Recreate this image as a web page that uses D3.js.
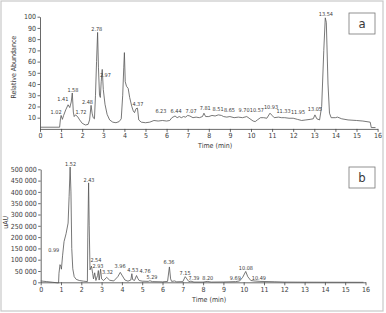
<!DOCTYPE html>
<html>
<head>
<meta charset="utf-8">
<script src="https://cdn.jsdelivr.net/npm/d3@7"></script>
<style>
  body { margin: 0; background: #fff; }
  svg text { font-family: "Liberation Sans Narrow", "Arial Narrow", "DejaVu Sans Condensed", sans-serif; fill: #3a3a3a; }
  .axis path, .axis line { stroke: #444; stroke-width: 0.8; }
  .axis text { font-size: 7px; }
  .peak { font-size: 5.5px; text-anchor: middle; }
  .trace { fill: none; stroke: #555; stroke-width: 0.8; }
</style>
</head>
<body>
<div id="graphic"></div>
<script>
// panel a : MS trace (time min, relative abundance %)
const traceA = [
  [0,1.5],[0.93,1.5],[0.97,9],[1.0,12],[1.06,8.5],[1.12,12],[1.22,17],[1.33,21.5],[1.41,19],[1.48,24],
  [1.53,32],[1.58,15],[1.62,11],[1.68,12.5],[1.78,11],[1.88,8],[2.0,5],[2.15,3.5],[2.28,4],[2.35,8],
  [2.42,21],[2.47,14],[2.52,10],[2.58,9],[2.63,30],[2.68,60],[2.73,86],[2.77,55],[2.82,30],[2.86,28],
  [2.9,42],[2.95,53],[3.0,35],[3.08,22],[3.18,13],[3.3,8],[3.45,6],[3.6,5.5],[3.75,6.5],[3.85,9],
  [3.92,30],[3.97,55],[4.0,68],[4.04,42],[4.1,38],[4.18,36],[4.25,28],[4.35,20],[4.42,16],[4.48,14.5],
  [4.55,18],[4.62,18.5],[4.68,8],[4.8,6],[5.0,5.5],[5.2,6],[5.4,7.5],[5.6,7],[5.8,7.5],[6.0,7],
  [6.15,7.5],[6.25,10],[6.4,11.5],[6.5,10],[6.6,11],[6.7,10],[6.8,11],[6.9,10.5],[7.0,12],[7.1,11.5],
  [7.25,10],[7.4,10.5],[7.55,10],[7.7,11],[7.77,14],[7.85,11],[8.0,11],[8.15,12],[8.3,11.5],[8.45,12.5],
  [8.6,12],[8.7,11],[8.85,10.5],[9.0,11],[9.2,10],[9.4,10.5],[9.6,10],[9.8,11],[9.95,9],[10.1,7],
  [10.2,6.5],[10.3,8],[10.45,10],[10.6,10],[10.75,9.5],[10.9,14],[11.0,12],[11.1,10],[11.3,10.5],[11.45,10],
  [11.6,10],[11.8,9.5],[12.0,9.5],[12.2,8.5],[12.4,7.5],[12.6,8],[12.8,8.5],[12.95,9],[13.03,12.5],[13.12,9],
  [13.25,8],[13.35,20],[13.45,70],[13.52,99],[13.57,95],[13.65,40],[13.72,14],[13.8,10],[14.0,10],[14.1,10.5],
  [14.3,9],[14.6,8],[15.0,7.5],[15.3,7],[15.65,6],[15.7,1.2],[15.9,1.2]
];
const labelsA = ["1.02","1.41","1.58","1.72","2.48","2.78","2.97","4.37","6.23","6.44","7.07","7.81","8.51",
  "8.65","9.70","10.57","10.93","11.33","11.95","13.05","13.54"];
// where each label sits, in data units [time, abundance]
const labelAtA = [[0.76,13],[1.08,25],[1.56,33],[1.94,13],[2.25,22],[2.69,87],[3.10,46],[4.64,20],
  [5.73,14],[6.45,14],[7.16,14],[7.83,17],[8.44,16],[8.98,15],[9.67,15],[10.28,15],[10.95,18],
  [11.54,14],[12.23,13.5],[13.03,16],[13.55,101]];
const yTicksA = [10,20,30,40,50,60,70,80,90,100];

// panel b : UV trace (time min, uAU)
const traceB = [
  [0,6000],[0.3,3000],[0.6,0],[0.88,-3000],[0.9,40000],[0.95,78000],[0.99,70000],[1.02,58000],[1.08,120000],
  [1.15,180000],[1.25,215000],[1.35,262000],[1.4,380000],[1.45,510000],[1.49,400000],[1.53,150000],[1.58,60000],
  [1.65,25000],[1.75,13000],[1.9,8000],[2.1,5000],[2.3,3000],[2.32,200000],[2.36,440000],[2.39,250000],
  [2.43,55000],[2.5,72000],[2.56,40000],[2.6,15000],[2.66,42000],[2.72,8000],[2.8,30000],[2.84,52000],
  [2.88,10000],[2.95,58000],[3.0,15000],[3.1,8000],[3.25,22000],[3.4,9000],[3.6,6000],[3.8,25000],
  [3.92,44000],[4.0,32000],[4.15,10000],[4.3,5000],[4.44,10000],[4.49,38000],[4.53,12000],[4.62,8000],
  [4.72,30000],[4.78,18000],[4.85,8000],[5.0,5000],[5.3,4000],[5.38,7000],[5.5,3000],[6.0,2000],
  [6.25,4000],[6.34,68000],[6.4,15000],[6.45,4000],[6.6,6000],[6.7,2000],[7.0,3000],[7.12,25000],
  [7.2,15000],[7.3,3000],[7.4,5000],[7.55,1000],[8.0,1000],[8.2,4000],[8.4,1000],[9.0,1500],[9.6,3000],
  [9.8,6000],[9.95,22000],[10.1,48000],[10.2,25000],[10.35,8000],[10.5,6000],[10.8,4000],[11.5,2500],
  [12,1000],[13,500],[14,300],[15,200],[15.9,0]
];
const labelsB = ["0.99","1.52","2.43","2.54","2.93","3.32","3.96","4.53","4.76","5.29","6.36","7.15",
  "7.39","8.20","9.69","10.08","10.49"];
const labelAtB = [[0.64,134000],[1.47,516000],[2.38,444000],[2.72,91000],[2.82,63000],[3.29,37000],
  [3.91,63000],[4.54,46000],[5.14,42000],[5.48,15000],[6.32,81000],[7.11,32000],[7.55,10000],
  [8.23,10000],[9.59,10000],[10.11,54000],[10.75,10000]];
const yTicksB = [0,50000,100000,150000,200000,250000,300000,350000,400000,450000,500000];

const xTicks = d3.range(0, 17);

const width = 386, height = 313;
const svg = d3.select('#graphic').append('svg')
  .attr('width', width).attr('height', height);

// outer frame
svg.append('rect')
  .attr('x', 1).attr('y', 1).attr('width', 382).attr('height', 310)
  .attr('fill', 'none').attr('stroke', '#c8c8c8').attr('stroke-width', 1.2);

function drawPanel(o) {
  const x = d3.scaleLinear().domain([0, 16]).range(o.xRange);
  const y = d3.scaleLinear().domain(o.yDomain).range(o.yRange);

  svg.append('g').attr('class', 'x axis')
    .attr('transform', 'translate(0,' + y(0) + ')')
    .call(d3.axisBottom(x).tickValues(xTicks).tickSize(3).tickSizeOuter(0).tickPadding(1.5));

  svg.append('g').attr('class', 'y axis')
    .attr('transform', 'translate(' + x(0) + ',0)')
    .call(d3.axisLeft(y).tickValues(o.yTicks).tickSize(2.5).tickSizeOuter(0).tickPadding(1.5)
      .tickFormat(o.fmt));

  const line = d3.line().x(d => x(d[0])).y(d => y(d[1]));
  svg.append('path').attr('class', 'trace').attr('d', line(o.trace));

  svg.append('g').selectAll('text')
    .data(o.labels)
    .join('text')
    .attr('class', 'peak')
    .attr('x', (d, i) => x(o.labelAt[i][0]))
    .attr('y', (d, i) => y(o.labelAt[i][1]))
    .text(d => d);

  // x title
  svg.append('text')
    .attr('x', x(8.3)).attr('y', y(0) + 19.5)
    .attr('text-anchor', 'middle').style('font-size', '7px')
    .text('Time (min)');

  // y title
  svg.append('text')
    .attr('transform', 'translate(' + o.yTitleX + ',' + y(o.yTitleAt) + ') rotate(-90)')
    .attr('text-anchor', 'middle').style('font-size', '7px')
    .text(o.yTitle);

  // panel letter box
  svg.append('rect')
    .attr('x', 349).attr('y', o.boxY).attr('width', 26).attr('height', 21)
    .attr('fill', '#fff').attr('stroke', '#777').attr('stroke-width', 0.8);
  svg.append('text')
    .attr('x', 362).attr('y', o.boxY + 15)
    .attr('text-anchor', 'middle').style('font-size', '13px')
    .text(o.letter);
}

drawPanel({
  trace: traceA, labels: labelsA, labelAt: labelAtA,
  xRange: [40, 377.6], yDomain: [0, 100], yRange: [128.9, 16.7],
  yTicks: yTicksA, fmt: d3.format('d'),
  yTitle: 'Relative Abundance', yTitleX: 16, yTitleAt: 55,
  boxY: 13, letter: 'a'
});

drawPanel({
  trace: traceB, labels: labelsB, labelAt: labelAtB,
  xRange: [40.7, 365.5], yDomain: [0, 500000], yRange: [282.3, 169.3],
  yTicks: yTicksB, fmt: d => d3.format(',')(d).replace(/,/g, ' '),
  yTitle: 'uAU', yTitleX: 8, yTitleAt: 265000,
  boxY: 167, letter: 'b'
});
</script>
</body>
</html>
